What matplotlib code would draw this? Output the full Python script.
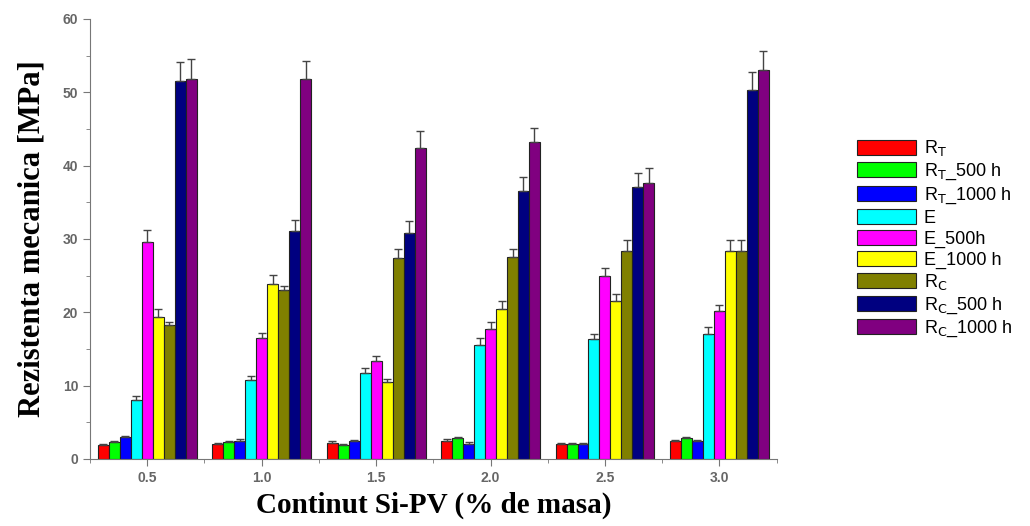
import numpy as np
import matplotlib
matplotlib.use("Agg")
import matplotlib.pyplot as plt
from matplotlib.ticker import MultipleLocator

# Si-PV content (% by mass)
content = [0.5, 1.0, 1.5, 2.0, 2.5, 3.0]

labels = [r'R$_{\mathrm{T}}$', r'R$_{\mathrm{T}}$_500 h', r'R$_{\mathrm{T}}$_1000 h',
          'E', 'E_500h', 'E_1000 h',
          r'R$_{\mathrm{C}}$', r'R$_{\mathrm{C}}$_500 h', r'R$_{\mathrm{C}}$_1000 h']
colors = ['#ff0000', '#00ff00', '#0000ff', '#00ffff', '#ff00ff', '#ffff00',
          '#808000', '#000080', '#800080']

rt = [1.9, 2.0, 2.2, 2.5, 2.0, 2.4]
rt_500 = [2.3, 2.3, 1.9, 2.8, 2.0, 2.8]
rt_1000 = [3.0, 2.5, 2.4, 2.1, 2.0, 2.4]
e = [8.1, 10.8, 11.7, 15.6, 16.3, 17.1]
e_500 = [29.6, 16.5, 13.3, 17.7, 24.9, 20.2]
e_1000 = [19.4, 23.8, 10.5, 20.4, 21.5, 28.4]
rc = [18.3, 23.0, 27.4, 27.6, 28.3, 28.4]
rc_500 = [51.6, 31.1, 30.8, 36.6, 37.1, 50.3]
rc_1000 = [51.8, 51.8, 42.4, 43.2, 37.6, 53.1]

err_rt = [0.2, 0.2, 0.2, 0.2, 0.2, 0.2]
err_e = [0.5, 0.5, 0.7, 0.9, 0.8, 0.9]
err_e_500 = [1.6, 0.7, 0.7, 1.0, 1.2, 0.8]
err_e_1000 = [1.1, 1.3, 0.4, 1.2, 1.0, 1.4]
err_rc = [0.4, 0.6, 1.2, 1.1, 1.5, 1.4]
err_rc_500 = [2.6, 1.5, 1.7, 1.8, 1.9, 2.5]
err_rc_1000 = [2.7, 2.5, 2.3, 2.0, 2.1, 2.5]

series = [rt, rt_500, rt_1000, e, e_500, e_1000, rc, rc_500, rc_1000]
errors = [err_rt, err_rt, err_rt, err_e, err_e_500, err_e_1000, err_rc, err_rc_500, err_rc_1000]

fig = plt.figure(figsize=(10.3, 5.26), dpi=100)
ax = fig.add_axes([0.0874, 0.1274, 0.6666, 0.8365])

width = 0.048
x = np.array(content)
for i, (vals, errs) in enumerate(zip(series, errors)):
    pos = x + (i - 4) * width
    ax.bar(pos, vals, width, color=colors[i], edgecolor='#222222', linewidth=0.8,
           label=labels[i], zorder=2)
    ax.errorbar(pos, vals, yerr=[np.zeros(len(errs)), errs], fmt='none',
                ecolor='#444444', elinewidth=1.0, capsize=3, capthick=1.0, zorder=3)

ax.set_xlim(0.25, 3.25)
ax.set_ylim(0, 60)
ax.xaxis.set_major_locator(MultipleLocator(0.5))
ax.xaxis.set_minor_locator(MultipleLocator(0.25))
ax.yaxis.set_major_locator(MultipleLocator(10))
ax.yaxis.set_minor_locator(MultipleLocator(5))
ax.set_xticks(content)
ax.set_xticklabels(['0.5', '1.0', '1.5', '2.0', '2.5', '3.0'])

for side in ['top', 'right']:
    ax.spines[side].set_visible(False)
for side in ['left', 'bottom']:
    ax.spines[side].set_color('#777777')
ax.tick_params(which='both', direction='out', colors='#777777')
ax.tick_params(which='major', length=5, labelsize=10, labelcolor='#666666')
ax.tick_params(which='minor', length=3)
for lbl in ax.get_xticklabels() + ax.get_yticklabels():
    lbl.set_family('Liberation Sans')
    lbl.set_fontweight('bold')

ax.set_ylabel('Rezistenta mecanica [MPa]', family='Liberation Serif',
              fontweight='bold', fontsize=22, labelpad=12)
ax.set_xlabel('Continut Si-PV (% de masa)', family='Liberation Serif',
              fontweight='bold', fontsize=21, labelpad=5)

fig.legend(loc='upper left', bbox_to_anchor=(0.816, 0.768), frameon=False,
           prop={'family': 'Liberation Sans', 'size': 13},
           handlelength=3.3, handleheight=0.9, labelspacing=0.18, handletextpad=0.4)

fig.savefig('out.png', dpi=100)
